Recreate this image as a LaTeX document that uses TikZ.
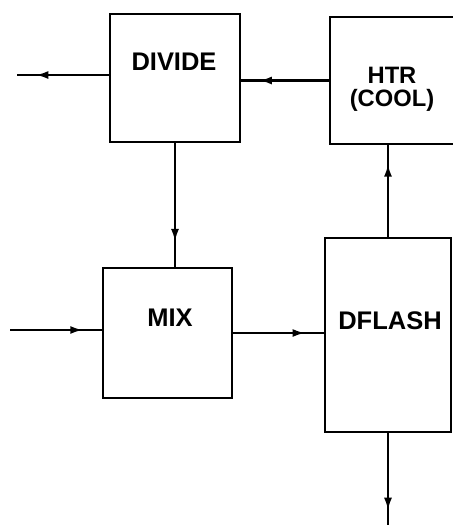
\documentclass[tikz,border=0pt]{standalone}
\usepackage{fontspec}
\setmainfont{Liberation Sans}
\usepackage{tikz}
\usetikzlibrary{arrows.meta,decorations.markings}

\begin{document}
\begin{tikzpicture}[x=0.02cm, y=-0.02cm, >=Latex,
    box/.style={draw, line width=1.6pt, inner sep=0pt},
    lbl/.style={font=\fontsize{14.5}{17}\selectfont\bfseries, align=center, inner sep=0pt},
    flow/.style={line width=1.6pt, postaction={decorate},
        decoration={markings, mark=at position 0.8 with {\arrow{Latex[length=2.6mm,width=1.6mm]}}}}]
    \clip (0,0) rectangle (453,525);

    % unit blocks
    \node[box, minimum width=2.6cm, minimum height=2.56cm] (divide) at (175,78) {};
    \node[box, minimum width=2.56cm, minimum height=2.54cm] (htr) at (394,80.5) {};
    \node[box, minimum width=2.58cm, minimum height=2.6cm] (mix) at (167.5,333) {};
    \node[box, minimum width=2.52cm, minimum height=3.88cm] (dflash) at (388,335) {};

    \node[lbl] (divide-t) at (174,62) {DIVIDE};
    \node[lbl, font=\fontsize{13.5}{13}\selectfont\bfseries] (htr-t) at (392,89) {HTR\\(COOL)};
    \node[lbl] (mix-t) at (170,318) {MIX};
    \node[lbl] (dflash-t) at (390,321) {DFLASH};

    % streams
    \coordinate (purge) at (17,75);
    \coordinate (feed) at (10,330);
    \coordinate (liquid) at (386,530);

    \draw[flow] (purge -| divide.west) -- (purge);
    \draw[flow] (htr.west) -- (htr.west -| divide.east);
    \draw[flow] (divide.south) -- (divide.south |- mix.north);
    \draw[flow] (dflash.north) -- (dflash.north |- htr.south);
    \draw[flow] (feed) -- (feed -| mix.west);
    \draw[flow] (mix.east) -- (mix.east -| dflash.west);
    \draw[flow] (dflash.south) -- (dflash.south |- liquid);
\end{tikzpicture}
\end{document}
